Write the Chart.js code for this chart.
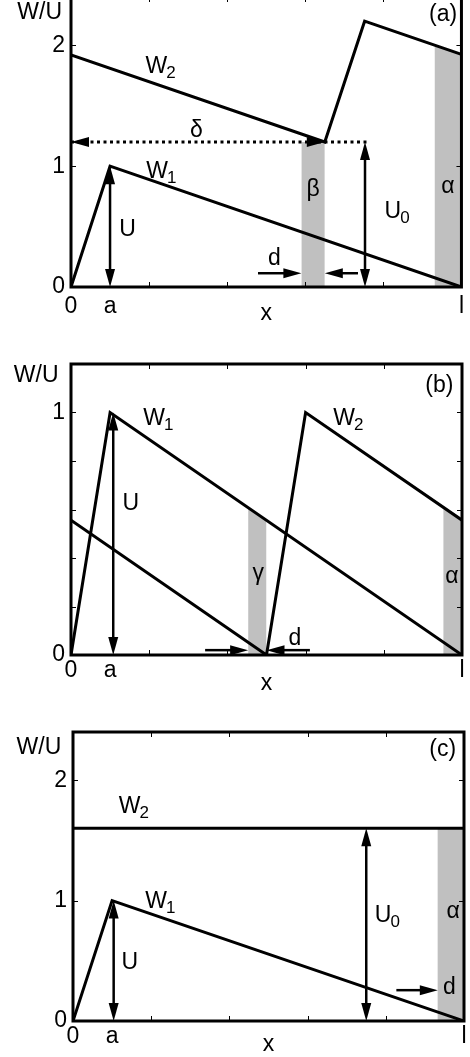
<!DOCTYPE html>
<html>
<head>
<meta charset="utf-8">
<script src="https://cdn.jsdelivr.net/npm/chart.js@4.4.1/dist/chart.umd.min.js"></script>
<style>
  html, body { margin: 0; padding: 0; background: #fff; }
  body { width: 470px; height: 1057px; position: relative; overflow: hidden; }
  canvas { position: absolute; left: 0; }
</style>
</head>
<body>
<canvas id="chartA" width="470" height="360" style="top:-30px"></canvas>
<canvas id="chartB" width="470" height="360" style="top:330px"></canvas>
<canvas id="chartC" width="470" height="367" style="top:690px"></canvas>
<script>
// axis ticks (x runs from 0 to l = 1)
const xTickVals = [0, 0.1, 1];
const xTickText = ['0', 'a', 'l'];
const xMinor = [0.2, 0.4, 0.6, 0.8];
const yTicksAC = [0, 1, 2];
const yTicksB = [0, 1];
const yMinorAC = [1, 2];
const yMinorB = [0.2, 0.4, 0.6, 0.8, 1];

// panel (a)
const aW1x = [0, 0.1, 1];
const aW1y = [0, 1, 0];
const aW2x = [0, 0.65, 0.752, 1];
const aW2y = [1.92, 1.2, 2.2, 1.925];
const aDeltaX = [0, 0.765];
const aDeltaY = [1.2, 1.2];
const aBetaX = [0.59, 0.65];
const aBetaY = [1.2, 1.2];
const aAlphaX = [0.931, 1];
const aAlphaY = [2.0, 1.925];

// panel (b)
const bW1x = [0, 0.1, 1];
const bW1y = [0, 1, 0];
const bW2x = [0, 0.5, 0.6, 1];
const bW2y = [0.556, 0, 1, 0.556];
const bGammaX = [0.453, 0.5];
const bGammaY = [0.608, 0.556];
const bAlphaX = [0.952, 1];
const bAlphaY = [0.609, 0.556];

// panel (c)
const cW1x = [0, 0.1, 1];
const cW1y = [0, 1, 0];
const cW2x = [0, 1];
const cW2y = [1.6, 1.6];
const cAlphaX = [0.932, 1];
const cAlphaY = [1.6, 1.6];

// arrows: x1, y1, x2, y2, heads (1 = at end, 2 = both), shaft drawn
const aArrows = [
  [0.1, 0, 0.1, 1, 2, true],
  [0.753, 0, 0.753, 1.2, 2, true],
  [0.479, 0.114, 0.59, 0.114, 1, true],
  [0.735, 0.114, 0.65, 0.114, 1, true],
  [0, 1.2, 0.65, 1.2, 2, false]
];
const bArrows = [
  [0.108, 0, 0.108, 1, 2, true],
  [0.343, 0.02, 0.453, 0.02, 1, true],
  [0.611, 0.02, 0.5, 0.02, 1, true]
];
const cArrows = [
  [0.104, 0, 0.104, 1, 2, true],
  [0.75, 0, 0.75, 1.6, 2, true],
  [0.827, 0.256, 0.933, 0.256, 1, true]
];

// text labels: text, subscript, x, y, align
const aLabels = [
  ['W', '2', 0.191, 1.767, 'left'],
  ['W', '1', 0.193, 0.9, 'left'],
  ['δ', '', 0.321, 1.242, 'center'],
  ['β', '', 0.62, 0.75, 'center'],
  ['α', '', 0.965, 0.78, 'center'],
  ['U', '', 0.1235, 0.419, 'left'],
  ['U', '0', 0.803, 0.5725, 'left'],
  ['d', '', 0.5046, 0.183, 'left'],
  ['(a)', '', 0.989, 2.2, 'right'],
  ['W/U', '', -0.023, 2.22, 'right']
];
const bLabels = [
  ['W', '1', 0.185, 0.95, 'left'],
  ['W', '2', 0.671, 0.95, 'left'],
  ['U', '', 0.132, 0.599, 'left'],
  ['γ', '', 0.479, 0.31, 'center'],
  ['α', '', 0.974, 0.297, 'center'],
  ['d', '', 0.556, 0.041, 'left'],
  ['(b)', '', 0.978, 1.086, 'right'],
  ['W/U', '', -0.032, 1.124, 'right']
];
const cLabels = [
  ['W', '2', 0.117, 1.73, 'left'],
  ['W', '1', 0.185, 0.94, 'left'],
  ['U', '0', 0.772, 0.82, 'left'],
  ['U', '', 0.124, 0.43, 'left'],
  ['α', '', 0.972, 0.855, 'center'],
  ['d', '', 0.946, 0.224, 'left'],
  ['(c)', '', 0.98, 2.2, 'right'],
  ['W/U', '', -0.03, 2.22, 'right']
];

const FONT = "'Liberation Sans', Arial, Helvetica, sans-serif";
Chart.defaults.font.family = FONT;
Chart.defaults.font.size = 23;
Chart.defaults.color = '#000';

function pts(xs, ys) {
  return xs.map((x, i) => ({ x: x, y: ys[i] }));
}

function lineSet(xs, ys) {
  return { data: pts(xs, ys), borderColor: '#000', borderWidth: 3, pointRadius: 0,
           borderJoinStyle: 'miter', fill: false, order: 1 };
}

function bandSet(xs, ys) {
  return { data: pts(xs, ys), borderWidth: 0, borderColor: 'rgba(0,0,0,0)', pointRadius: 0,
           backgroundColor: '#c0c0c0', fill: 'origin', order: 5 };
}

function drawHead(ctx, tx, ty, ux, uy, L, W) {
  ctx.beginPath();
  ctx.moveTo(tx, ty);
  ctx.lineTo(tx - ux * L - uy * W, ty - uy * L + ux * W);
  ctx.lineTo(tx - ux * L + uy * W, ty - uy * L - ux * W);
  ctx.closePath();
  ctx.fill();
}

const decor = {
  id: 'decor',
  afterDatasetsDraw(chart, args, opts) {
    const { ctx, chartArea: ca } = chart;
    const x = chart.scales.x, y = chart.scales.y;
    ctx.save();
    ctx.strokeStyle = '#000';
    ctx.fillStyle = '#000';

    // inward tick marks
    ctx.lineWidth = 1;
    ctx.beginPath();
    opts.minorX.forEach(v => {
      const px = Math.round(x.getPixelForValue(v)) + 0.5;
      ctx.moveTo(px, ca.bottom); ctx.lineTo(px, ca.bottom - 5);
      ctx.moveTo(px, ca.top); ctx.lineTo(px, ca.top + 5);
    });
    opts.minorY.forEach(v => {
      const py = Math.round(y.getPixelForValue(v)) + 0.5;
      ctx.moveTo(ca.left, py); ctx.lineTo(ca.left + 5, py);
      ctx.moveTo(ca.right, py); ctx.lineTo(ca.right - 5, py);
    });
    ctx.stroke();

    // frame
    ctx.lineWidth = 3;
    ctx.strokeRect(ca.left, ca.top, ca.right - ca.left, ca.bottom - ca.top);

    // arrows
    const L = 18, W = 5;
    opts.arrows.forEach(a => {
      const x1 = x.getPixelForValue(a[0]), y1 = y.getPixelForValue(a[1]);
      const x2 = x.getPixelForValue(a[2]), y2 = y.getPixelForValue(a[3]);
      const len = Math.hypot(x2 - x1, y2 - y1);
      const ux = (x2 - x1) / len, uy = (y2 - y1) / len;
      if (a[5]) {
        const s = a[4] === 2 ? L * 0.7 : 0;
        ctx.lineWidth = 2.5;
        ctx.beginPath();
        ctx.moveTo(x1 + ux * s, y1 + uy * s);
        ctx.lineTo(x2 - ux * L * 0.7, y2 - uy * L * 0.7);
        ctx.stroke();
      }
      drawHead(ctx, x2, y2, ux, uy, L, W);
      if (a[4] === 2) drawHead(ctx, x1, y1, -ux, -uy, L, W);
    });

    // labels
    ctx.textBaseline = 'alphabetic';
    opts.labels.forEach(l => {
      ctx.font = '23px ' + FONT;
      const mw = ctx.measureText(l[0]).width;
      ctx.font = '17px ' + FONT;
      const sw = l[1] ? ctx.measureText(l[1]).width : 0;
      const total = mw + sw;
      let px = x.getPixelForValue(l[2]);
      const py = y.getPixelForValue(l[3]);
      if (l[4] === 'center') px -= total / 2;
      else if (l[4] === 'right') px -= total;
      ctx.textAlign = 'left';
      ctx.font = '23px ' + FONT;
      ctx.fillText(l[0], px, py);
      if (l[1]) {
        ctx.font = '17px ' + FONT;
        ctx.fillText(l[1], px + mw - 1, py + 5);
      }
    });
    ctx.restore();
  }
};

function makePanel(id, g, datasets, yTicks, minorY, arrows, labels) {
  return new Chart(document.getElementById(id), {
    type: 'line',
    data: { datasets: datasets },
    plugins: [decor],
    options: {
      responsive: false,
      animation: false,
      devicePixelRatio: 1,
      layout: { padding: { left: 0, right: g.w - g.right, top: g.top, bottom: 0 } },
      plugins: {
        legend: { display: false },
        tooltip: { enabled: false },
        decor: { minorX: xMinor, minorY: minorY, arrows: arrows, labels: labels }
      },
      elements: { line: { tension: 0 } },
      scales: {
        x: {
          type: 'linear', min: 0, max: 1,
          afterBuildTicks: s => { s.ticks = xTickVals.map(v => ({ value: v })); },
          afterFit: s => { s.height = g.h - g.bottom; },
          ticks: { padding: g.xPad, maxRotation: 0, autoSkip: false,
                   callback: (v, i) => xTickText[i] },
          grid: { display: false, drawTicks: false },
          border: { display: false },
          title: { display: true, text: 'x', padding: { top: 0, bottom: g.titlePad } }
        },
        y: {
          type: 'linear', min: 0, max: g.ymax,
          afterBuildTicks: s => { s.ticks = yTicks.map(v => ({ value: v })); },
          afterFit: s => { s.width = g.left; },
          ticks: { padding: 6, callback: v => String(v) },
          grid: { display: false, drawTicks: false },
          border: { display: false }
        }
      }
    }
  });
}

makePanel('chartA',
  { w: 470, h: 360, left: 71, right: 462, top: 27, bottom: 317, ymax: 2.4, xPad: 6, titlePad: 3 },
  [lineSet(aW1x, aW1y), lineSet(aW2x, aW2y),
   Object.assign(lineSet(aDeltaX, aDeltaY), { borderDash: [3, 3.5], borderWidth: 3, borderJoinStyle: 'miter' }),
   bandSet(aBetaX, aBetaY), bandSet(aAlphaX, aAlphaY)],
  yTicksAC, yMinorAC, aArrows, aLabels);

makePanel('chartB',
  { w: 470, h: 360, left: 71, right: 462, top: 34, bottom: 325, ymax: 1.2, xPad: 2, titlePad: -7 },
  [lineSet(bW1x, bW1y), lineSet(bW2x, bW2y),
   bandSet(bGammaX, bGammaY), bandSet(bAlphaX, bAlphaY)],
  yTicksB, yMinorB, bArrows, bLabels);

makePanel('chartC',
  { w: 470, h: 367, left: 73, right: 464, top: 42, bottom: 331, ymax: 2.4, xPad: 1.5, titlePad: -1 },
  [lineSet(cW1x, cW1y), lineSet(cW2x, cW2y),
   bandSet(cAlphaX, cAlphaY)],
  yTicksAC, yMinorAC, cArrows, cLabels);
</script>
</body>
</html>
